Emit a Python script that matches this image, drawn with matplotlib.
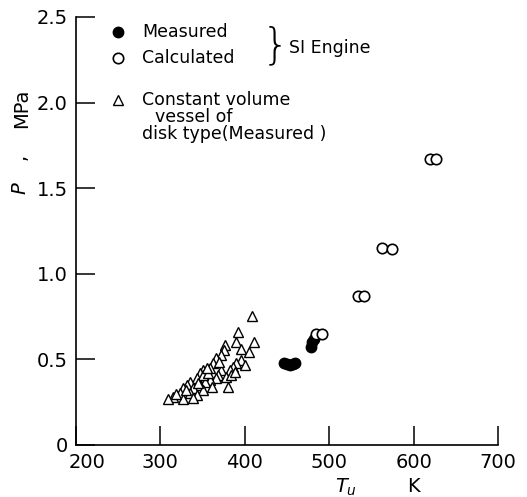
"""
Cylinder pressure vs. unburned gas temperature — SI engine vs. constant volume vessel.
"""

import matplotlib
matplotlib.use("Agg")
import matplotlib.pyplot as plt
import matplotlib.transforms as mtransforms

# ================================================================
# DATA
# ================================================================

# SI engine, measured (filled circles)
meas_T = [446, 450, 453, 457, 460, 478, 480, 482]
meas_P = [0.48, 0.475, 0.47, 0.475, 0.48, 0.57, 0.60, 0.62]

# SI engine, calculated (open circles)
calc_T = [484, 492, 534, 541, 563, 574, 619, 627]
calc_P = [0.65, 0.65, 0.87, 0.87, 1.15, 1.145, 1.67, 1.67]

# constant volume vessel of disk type, measured (triangles)
cvv_T = [408, 392, 389, 411, 395, 405, 376, 375, 372, 366, 396, 390, 386, 382,
         372, 362, 359, 351, 347, 343, 368, 366, 359, 353, 347, 335, 331, 327,
         339, 351, 361, 323, 335, 343, 315, 309, 327, 339, 378, 384, 388, 370,
         351, 356, 318, 330, 345, 355, 380, 400]
cvv_P = [0.753, 0.662, 0.603, 0.603, 0.559, 0.545, 0.584, 0.555, 0.526, 0.506,
         0.497, 0.477, 0.457, 0.438, 0.438, 0.477, 0.447, 0.438, 0.419, 0.389,
         0.409, 0.389, 0.380, 0.370, 0.350, 0.370, 0.350, 0.331, 0.331, 0.321,
         0.341, 0.302, 0.302, 0.292, 0.282, 0.267, 0.267, 0.273, 0.399, 0.409,
         0.428, 0.487, 0.409, 0.419, 0.300, 0.320, 0.360, 0.450, 0.340, 0.470]

X_TICKS = [200, 300, 400, 500, 600, 700]
Y_TICKS = [0, 0.5, 1.0, 1.5, 2.0, 2.5]
Y_TICKLABELS = ["0", "0.5", "1.0", "1.5", "2.0", "2.5"]

# ================================================================
# PLOT
# ================================================================

W, H = 527, 497
fig = plt.figure(figsize=(W / 100, H / 100), dpi=100)
ax = fig.add_axes([76 / W, 1 - 445 / H, 422 / W, 428 / H])

ax.plot(cvv_T, cvv_P, linestyle="none", marker="^", markersize=7,
        markerfacecolor="white", markeredgecolor="black", markeredgewidth=1.0)
ax.plot(meas_T, meas_P, linestyle="none", marker="o", markersize=7.5,
        markerfacecolor="black", markeredgecolor="black")
ax.plot(calc_T, calc_P, linestyle="none", marker="o", markersize=7.5,
        markerfacecolor="white", markeredgecolor="black", markeredgewidth=1.2)

ax.set_xlim(200, 700)
ax.set_ylim(0, 2.5)
ax.set_xticks(X_TICKS)
ax.set_yticks(Y_TICKS)
ax.set_yticklabels(Y_TICKLABELS)
for side in ("top", "right"):
    ax.spines[side].set_visible(False)
for side in ("left", "bottom"):
    ax.spines[side].set_linewidth(1.2)
ax.tick_params(direction="in", length=14, width=1.1, labelsize=14, pad=6)

# shift the "200" label a bit right, away from the "0"
lab200 = ax.get_xticklabels()[0]
lab200.set_transform(lab200.get_transform()
                     + mtransforms.ScaledTranslation(8 / 72, 0, fig.dpi_scale_trans))

# axis labels (y label is spread out: P   ,   MPa)
ykw = dict(rotation=90, transform=ax.transAxes, ha="center", va="center", fontsize=14)
ax.text(-0.132, 0.600, "$P$", **ykw)
ax.text(-0.132, 0.673, ",", **ykw)
ax.text(-0.128, 0.787, "MPa", **ykw)
fig.text(346 / W, 1 - 487 / H, "$T_u$", ha="center", va="center", fontsize=14)
fig.text(413 / W, 1 - 487 / H, "K", ha="center", va="center", fontsize=14)

# key
kw = dict(transform=ax.transAxes, clip_on=False, linestyle="none")
ax.plot([0.0995], [0.965], marker="o", markersize=7.5, color="black", **kw)
ax.plot([0.0995], [0.904], marker="o", markersize=7.5, markerfacecolor="white",
        markeredgecolor="black", markeredgewidth=1.2, **kw)
ax.plot([0.0995], [0.806], marker="^", markersize=7, markerfacecolor="white",
        markeredgecolor="black", markeredgewidth=1.0, **kw)

tkw = dict(transform=ax.transAxes, ha="left", va="center", fontsize=12.5)
ax.text(0.156, 0.965, "Measured", **tkw)
ax.text(0.156, 0.904, "Calculated", **tkw)
ax.text(0.156, 0.806, "Constant volume", **tkw)
ax.text(0.187, 0.766, "vessel of", **tkw)
ax.text(0.156, 0.727, "disk type(Measured )", **tkw)

ax.text(0.472, 0.932, "}", transform=ax.transAxes, ha="center", va="center",
        fontsize=31, fontweight="light")
ax.text(0.505, 0.927, "SI Engine", **tkw)

fig.savefig("out.png", dpi=100)
plt.close(fig)
